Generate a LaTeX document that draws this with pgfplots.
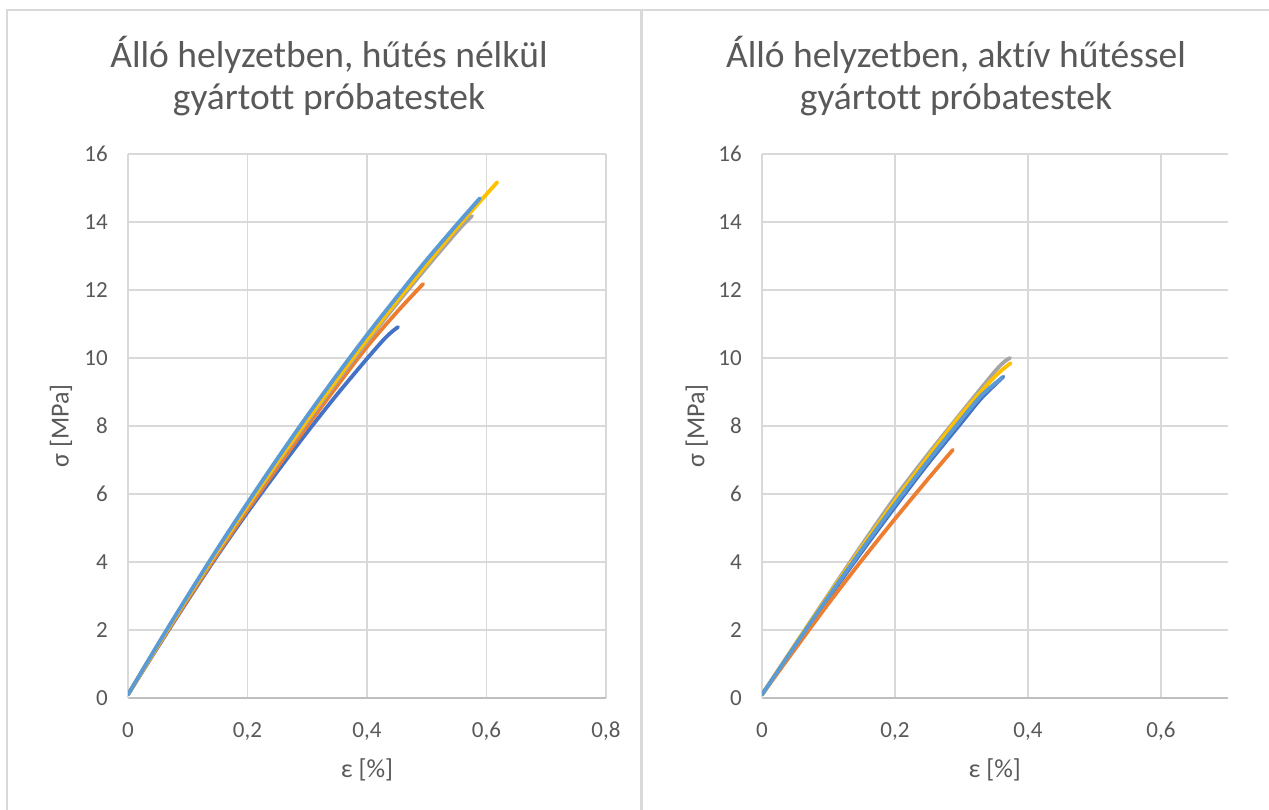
\documentclass[border=0pt]{standalone}
\usepackage{pgfplots}
\pgfplotsset{compat=1.18}
\usepackage{fontspec}
\setmainfont{Carlito}[Ligatures={NoCommon}]
\definecolor{txt}{HTML}{595959}
\definecolor{gridc}{HTML}{D9D9D9}
\definecolor{axc}{HTML}{BFBFBF}
\definecolor{sA}{HTML}{4472C4}
\definecolor{sB}{HTML}{ED7D31}
\definecolor{sC}{HTML}{A5A5A5}
\definecolor{sD}{HTML}{FFC000}
\definecolor{sE}{HTML}{5B9BD5}
\pgfplotsset{
  panel/.style={
    scale only axis, height=544pt,
    ymin=0, ymax=16, ytick={0,2,...,16},
    xmin=0,
    grid=major, major grid style={draw=gridc, line width=1.5pt},
    axis x line=bottom, axis y line=left,
    x axis line style={-, draw=axc, line width=1.5pt},
    y axis line style={-, draw=gridc, line width=1.5pt},
    major tick length=0pt,
    tick label style={font=\fontsize{23}{27}\selectfont, text=txt},
    /pgf/number format/assume math mode=true,
    /pgf/number format/use comma,
    xticklabel style={anchor=north, inner sep=0pt, yshift=-24pt},
    yticklabel style={anchor=east, inner sep=0pt, xshift=-20pt},
    label style={font=\fontsize{26}{30}\selectfont, text=txt},
    xlabel={ε [\%]}, ylabel={σ [MPa]},
    xlabel style={at={(axis description cs:0.5,-0.132)}, anchor=center},
    ylabel style={at={(axis description cs:-0.14,0.5)}, anchor=center},
    every axis plot/.append style={line width=3.8pt, line cap=round, line join=round, smooth, no markers},
  }
}
\begin{document}
\begin{tikzpicture}
\useasboundingbox (0,0) rectangle (1269pt,809pt);
% panel frames
\draw[gridc, line width=1.5pt] (7pt,-10pt) -- (7pt,799pt) -- (641pt,799pt) -- (641pt,-10pt);
\draw[gridc, line width=1.5pt] (642pt,-10pt) -- (642pt,799pt) -- (1280pt,799pt);
% titles
\node[anchor=base, text=txt, font=\fontsize{37.5}{44}\selectfont] at (329pt,741pt) {Álló helyzetben, hűtés nélkül};
\node[anchor=base, text=txt, font=\fontsize{37.5}{44}\selectfont] at (329pt,699pt) {gyártott próbatestek};
\node[anchor=base, text=txt, font=\fontsize{37.5}{44}\selectfont] at (956pt,741pt) {Álló helyzetben, aktív hűtéssel};
\node[anchor=base, text=txt, font=\fontsize{37.5}{44}\selectfont] at (956pt,699pt) {gyártott próbatestek};

\begin{axis}[panel, at={(128pt,111pt)}, anchor=south west, width=478pt,
  xmax=0.8, xtick={0,0.2,0.4,0.6,0.8}]
\addplot[sA] coordinates {(0,0.1) (0.05,1.5) (0.1,2.87) (0.15,4.2) (0.2,5.46) (0.25,6.66) (0.3,7.82) (0.35,8.93) (0.4,9.98) (0.43,10.58) (0.445,10.82) (0.452,10.91)};
\addplot[sB] coordinates {(0,0.1) (0.05,1.52) (0.1,2.9) (0.15,4.24) (0.2,5.53) (0.25,6.78) (0.3,8.0) (0.35,9.18) (0.4,10.33) (0.45,11.35) (0.494,12.18)};
\addplot[sC] coordinates {(0,0.1) (0.05,1.55) (0.1,2.96) (0.15,4.32) (0.2,5.63) (0.25,6.9) (0.3,8.13) (0.35,9.32) (0.4,10.48) (0.45,11.6) (0.5,12.67) (0.54,13.5) (0.56,13.9) (0.576,14.18)};
\addplot[sD] coordinates {(0,0.1) (0.05,1.55) (0.1,2.97) (0.15,4.34) (0.2,5.66) (0.25,6.94) (0.3,8.18) (0.35,9.38) (0.4,10.55) (0.45,11.67) (0.5,12.76) (0.55,13.82) (0.589,14.6) (0.618,15.17)};
\addplot[sE] coordinates {(0,0.1) (0.05,1.58) (0.1,3.01) (0.15,4.4) (0.2,5.74) (0.25,7.04) (0.3,8.3) (0.35,9.51) (0.4,10.68) (0.45,11.8) (0.5,12.89) (0.55,13.92) (0.589,14.7)};
\end{axis}

\begin{axis}[panel, at={(762pt,111pt)}, anchor=south west, width=465.5pt,
  xmax=0.7, xtick={0,0.2,0.4,0.6}]
\addplot[sA] coordinates {(0,0.1) (0.05,1.53) (0.1,2.94) (0.15,4.3) (0.2,5.62) (0.25,6.9) (0.3,8.1) (0.33,8.82) (0.363,9.45)};
\addplot[sB] coordinates {(0,0.1) (0.05,1.45) (0.1,2.78) (0.15,4.05) (0.2,5.27) (0.25,6.45) (0.287,7.3)};
\addplot[sC] coordinates {(0,0.1) (0.05,1.58) (0.1,3.05) (0.15,4.5) (0.2,5.9) (0.25,7.18) (0.3,8.4) (0.35,9.6) (0.365,9.9) (0.373,10.0)};
\addplot[sD] coordinates {(0,0.1) (0.05,1.57) (0.1,3.02) (0.15,4.43) (0.2,5.8) (0.25,7.1) (0.3,8.35) (0.35,9.45) (0.374,9.85)};
\addplot[sE] coordinates {(0,0.1) (0.05,1.55) (0.1,2.98) (0.15,4.36) (0.2,5.7) (0.25,6.98) (0.3,8.2) (0.33,8.9) (0.361,9.42)};
\end{axis}
\end{tikzpicture}
\end{document}
